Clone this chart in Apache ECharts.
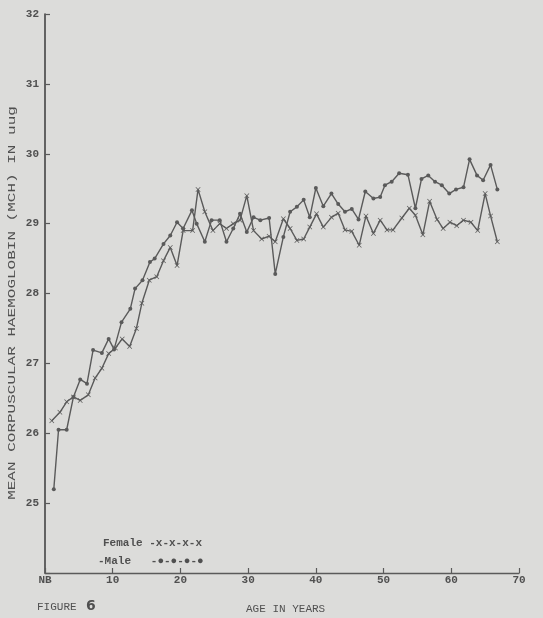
<!DOCTYPE html>
<html>
<head>
<meta charset="utf-8">
<script src="https://cdn.jsdelivr.net/npm/echarts@6/dist/echarts.min.js"></script>
<style>
html,body{margin:0;padding:0;background:#dcdcda;}
#c{width:543px;height:618px;}
</style>
</head>
<body>
<div id="c"></div>
<script>
// ---- data ----
const xTicks = [0, 10, 20, 30, 40, 50, 60, 70];
const xTickLabels = ['NB', '10', '20', '30', '40', '50', '60', '70'];
const yTicks = [25, 26, 27, 28, 29, 30, 31, 32];

const femaleAge = [1.0,2.2,3.2,4.2,5.2,6.4,7.4,8.4,9.4,10.4,11.4,12.5,13.5,14.3,15.4,16.5,17.5,18.5,19.5,20.4,21.8,22.6,23.6,24.8,25.8,26.8,27.8,28.8,29.8,30.8,32.0,33.1,34.0,35.2,36.2,37.2,38.2,39.1,40.1,41.1,42.3,43.3,44.3,45.3,46.4,47.4,48.5,49.5,50.5,51.4,52.7,53.8,54.7,55.8,56.8,57.9,58.8,59.8,60.8,61.8,62.9,63.9,65.0,65.8,66.8];
const femaleMCH = [26.18,26.30,26.45,26.52,26.47,26.55,26.79,26.93,27.14,27.22,27.35,27.24,27.50,27.86,28.19,28.24,28.47,28.66,28.40,28.90,28.90,29.49,29.17,28.90,29.00,28.93,29.00,29.05,29.40,28.90,28.78,28.82,28.74,29.07,28.93,28.76,28.78,28.95,29.14,28.95,29.09,29.15,28.91,28.89,28.69,29.11,28.86,29.05,28.91,28.91,29.08,29.22,29.12,28.84,29.32,29.06,28.93,29.02,28.97,29.05,29.02,28.90,29.43,29.11,28.74];

const maleAge = [1.3,2.0,3.2,4.2,5.2,6.2,7.1,8.4,9.4,10.2,11.3,12.6,13.3,14.4,15.5,16.2,17.5,18.5,19.5,20.4,21.7,22.4,23.6,24.6,25.8,26.8,27.8,28.8,29.8,30.8,31.8,33.1,34.0,35.2,36.2,37.2,38.2,39.1,40.0,41.1,42.3,43.3,44.3,45.3,46.3,47.3,48.5,49.5,50.2,51.2,52.3,53.6,54.7,55.6,56.6,57.6,58.6,59.7,60.7,61.8,62.7,63.8,64.7,65.8,66.8];
const maleMCH = [25.20,26.05,26.05,26.52,26.77,26.71,27.19,27.15,27.35,27.20,27.59,27.78,28.07,28.19,28.45,28.50,28.71,28.83,29.02,28.93,29.19,29.00,28.74,29.05,29.05,28.74,28.93,29.14,28.88,29.09,29.05,29.08,28.28,28.81,29.17,29.24,29.34,29.09,29.51,29.25,29.43,29.28,29.17,29.21,29.06,29.46,29.36,29.38,29.55,29.60,29.72,29.70,29.22,29.64,29.69,29.60,29.55,29.43,29.49,29.52,29.92,29.69,29.62,29.84,29.49];

const yTitle = 'MEAN CORPUSCULAR HAEMOGLOBIN (MCH) IN uug';
const xTitle = 'AGE IN YEARS';
const figLabel = 'FIGURE';
const figNumber = '6';
const legendFemale = 'Female -x-x-x-x';
const legendMale = '-Male   -\u25CF-\u25CF-\u25CF-\u25CF';

// ---- chart ----
const FONT = '"Liberation Mono", "DejaVu Sans Mono", monospace';
const INK = '#505050';
const LINE = '#5a5a5a';
const crossPath = 'path://M1,0L5,4L9,0L10,1L6,5L10,9L9,10L5,6L1,10L0,9L4,5L0,1Z';

const chart = echarts.init(document.getElementById('c'), null, {renderer: 'canvas'});
const pair = (xs, ys) => xs.map((x, i) => [x, ys[i]]);

chart.setOption({
  backgroundColor: '#dcdcda',
  animation: false,
  grid: {left: 45, right: 24, top: 14, bottom: 45, containLabel: false},
  xAxis: {
    type: 'value', min: 0, max: 70, interval: 10,
    axisLine: {show: true, onZero: false, lineStyle: {color: LINE, width: 1.4}},
    axisTick: {show: true, inside: true, length: 5, lineStyle: {color: LINE, width: 1.2}},
    axisLabel: {
      color: INK, fontFamily: FONT, fontSize: 11, fontWeight: 'bold', margin: 2,
      formatter: v => { const i = xTicks.indexOf(v); return i >= 0 ? xTickLabels[i] : ''; }
    },
    splitLine: {show: false}
  },
  yAxis: {
    type: 'value', min: 24, max: 32, interval: 1,
    axisLine: {show: true, lineStyle: {color: '#444', width: 1.6}},
    axisTick: {show: true, inside: true, length: 5, lineStyle: {color: LINE, width: 1.2}},
    axisLabel: {
      color: INK, fontFamily: FONT, fontSize: 11, fontWeight: 'bold', margin: 6,
      formatter: v => yTicks.indexOf(v) >= 0 ? String(v) : ''
    },
    splitLine: {show: false}
  },
  series: [
    {
      name: 'Female', type: 'line', data: pair(femaleAge, femaleMCH),
      symbol: crossPath, symbolSize: 5, showAllSymbol: true,
      lineStyle: {color: LINE, width: 1.4},
      itemStyle: {color: LINE}
    },
    {
      name: 'Male', type: 'line', data: pair(maleAge, maleMCH),
      symbol: 'circle', symbolSize: 4, showAllSymbol: true,
      lineStyle: {color: LINE, width: 1.4},
      itemStyle: {color: LINE}
    }
  ],
  graphic: [
    {type: 'text', left: 103, top: 538,
     style: {text: legendFemale, font: 'bold 11px ' + FONT, fill: INK}},
    {type: 'text', left: 98, top: 556,
     style: {text: legendMale, font: 'bold 11px ' + FONT, fill: INK}},
    {type: 'text', left: 37, top: 602,
     style: {text: figLabel, font: '11px ' + FONT, fill: INK}},
    {type: 'text', left: 86, top: 599,
     style: {text: figNumber, font: 'bold 14px "DejaVu Sans", sans-serif', fill: INK}},
    {type: 'text', left: 246, top: 604,
     style: {text: xTitle, font: '11px ' + FONT, fill: INK}},
    {type: 'text', x: 12, y: 303, rotation: Math.PI / 2, scaleX: 1.6, scaleY: 1,
     style: {text: yTitle, font: '10px ' + FONT, fill: INK, align: 'center', verticalAlign: 'middle'}}
  ]
});
</script>
</body>
</html>
